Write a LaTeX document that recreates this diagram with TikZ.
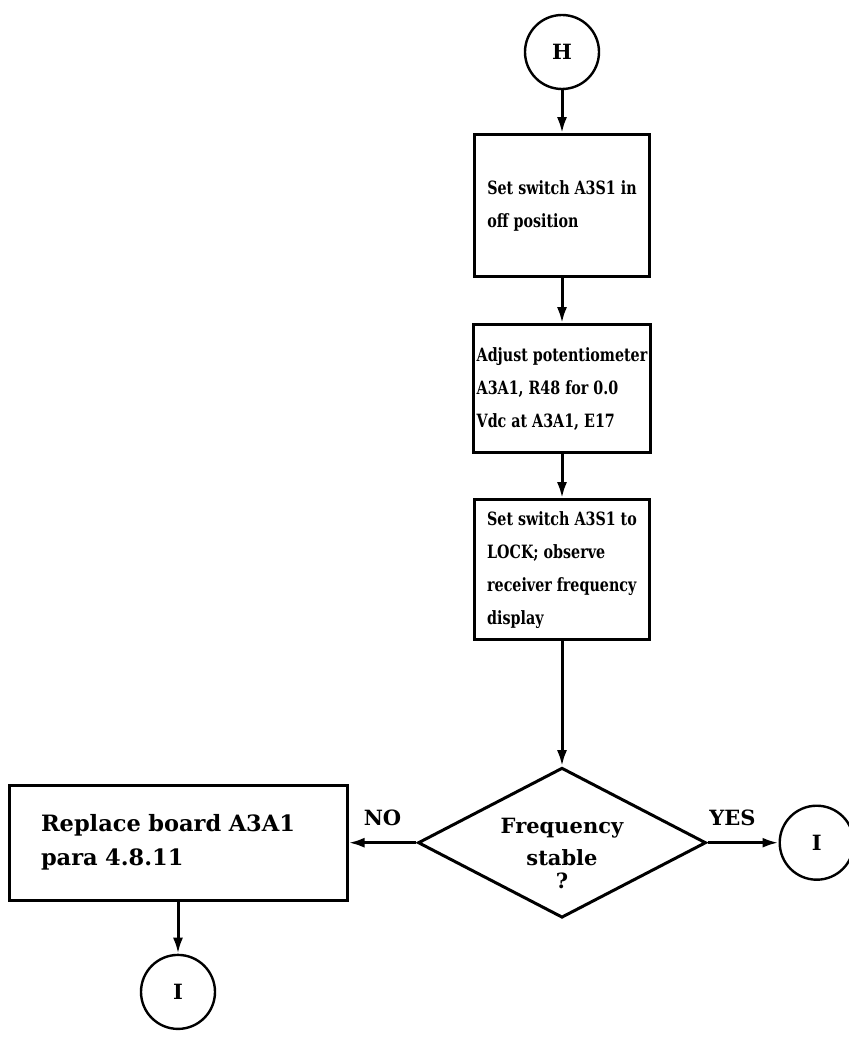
\documentclass[tikz,border=0pt]{standalone}
\usepackage{fontspec}
\setmainfont{DejaVu Serif}
\newfontfamily\narrowserif{DejaVu Serif}[FakeStretch=0.78]
\usetikzlibrary{shapes.geometric, arrows.meta, positioning}
\newcommand{\stepfont}{\narrowserif\fontsize{18.3}{33}\selectfont\bfseries}
\newcommand{\wideserif}{\fontsize{21}{32}\selectfont\bfseries}

\begin{document}
\begin{tikzpicture}[
        x=1pt, y=1pt,
        every node/.style={font=\wideserif},
        conn/.style={circle, draw, line width=2.4pt, minimum size=74pt, inner sep=0pt},
        stepbox/.style={rectangle, draw, line width=3pt, minimum width=175pt, align=left, font=\stepfont},
        decide/.style={diamond, draw, line width=3pt, aspect=1.92, inner sep=0pt, minimum width=288pt, minimum height=150pt},
        arr/.style={-{Latex[length=16pt, width=10pt]}, line width=3pt},
        lbl/.style={above=12pt, inner sep=3pt}
    ]
        \useasboundingbox (0,0) rectangle (848,-1064);

        \node[conn] (h) at (562,-52) {H};
        \node[stepbox, minimum height=142pt, below=43pt of h] (s1) {Set switch A3S1 in\\off position};
        \node[stepbox, minimum height=128pt, below=45pt of s1] (s2) {Adjust potentiometer\\A3A1, R48 for 0.0\\Vdc at A3A1, E17};
        \node[stepbox, minimum height=140pt, below=44pt of s2] (s3) {Set switch A3S1 to\\LOCK; observe\\receiver frequency\\display};
        \node[decide, below=125pt of s3] (freq) {\raisebox{-17pt}[0pt][0pt]{\begin{tabular}{@{}c@{}}Frequency\\stable\\[-9pt]?\end{tabular}}};

        \node[stepbox, font=\fontsize{22.5}{34}\selectfont\bfseries, text width=274pt, minimum width=338pt, minimum height=115pt, left=68pt of freq] (repl) {Replace board A3A1\\para 4.8.11};
        \node[conn, right=71pt of freq] (iyes) {I};
        \node[conn, below=52pt of repl] (ino) {I};

        \draw[arr] (h) -- (s1);
        \draw[arr] (s1) -- (s2);
        \draw[arr] (s2) -- (s3);
        \draw[arr] (s3) -- (freq);
        \draw[arr] (freq) -- node[lbl]{NO} (repl);
        \draw[arr] (freq) -- node[lbl, pos=0.35]{YES} (iyes);
        \draw[arr] (repl) -- (ino);
    \end{tikzpicture}
\end{document}
